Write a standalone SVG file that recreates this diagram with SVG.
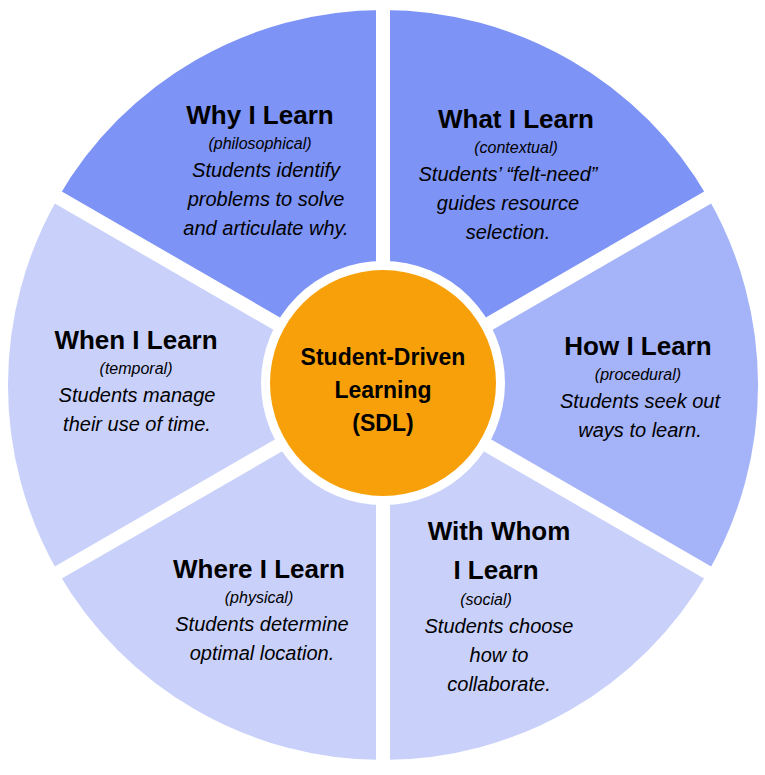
<svg xmlns="http://www.w3.org/2000/svg" width="765" height="775" viewBox="0 0 765 775">
<style>
.t{font-family:"Liberation Sans",Arial,sans-serif;font-weight:bold;font-size:26px;fill:#000;text-anchor:middle}
.s{font-family:"Liberation Sans",Arial,sans-serif;font-style:italic;font-size:16px;fill:#000;text-anchor:middle}
.b{font-family:"Liberation Sans",Arial,sans-serif;font-style:italic;font-size:20px;fill:#000;text-anchor:middle}
.c{font-family:"Liberation Sans",Arial,sans-serif;font-weight:bold;font-size:23px;fill:#000;text-anchor:middle}
.gap{stroke:#fff;stroke-width:14}
</style>
<rect width="765" height="775" fill="#fff"/>
<g id="why"><path d="M383,385 L58.2,197.5 A375,375 0 0 1 383,10 Z" fill="#7d93f6"/>
<text class="t" x="260" y="124">Why I Learn</text><text class="s" x="260" y="149">(philosophical)</text>
<text class="b" x="266" y="177">Students identify</text><text class="b" x="266" y="206">problems to solve</text><text class="b" x="266" y="235">and articulate why.</text></g>
<g id="what"><path d="M383,385 L383,10 A375,375 0 0 1 707.8,197.5 Z" fill="#7d93f6"/>
<text class="t" x="516" y="128">What I Learn</text><text class="s" x="516" y="153">(contextual)</text>
<text class="b" x="508" y="181">Students’ “felt-need”</text><text class="b" x="508" y="210">guides resource</text><text class="b" x="508" y="239">selection.</text></g>
<g id="how"><path d="M383,385 L707.8,197.5 A375,375 0 0 1 707.8,572.5 Z" fill="#a5b3f9"/>
<text class="t" x="638" y="355">How I Learn</text><text class="s" x="638" y="380">(procedural)</text>
<text class="b" x="640" y="408">Students seek out</text><text class="b" x="640" y="437">ways to learn.</text></g>
<g id="withwhom"><path d="M383,385 L707.8,572.5 A375,375 0 0 1 383,760 Z" fill="#c9d1fb"/>
<text class="t" x="499" y="540">With Whom</text><text class="t" x="496" y="579">I Learn</text><text class="s" x="486" y="605">(social)</text>
<text class="b" x="499" y="633">Students choose</text><text class="b" x="499" y="662">how to</text><text class="b" x="499" y="691">collaborate.</text></g>
<g id="where"><path d="M383,385 L383,760 A375,375 0 0 1 58.2,572.5 Z" fill="#c9d1fb"/>
<text class="t" x="259" y="578">Where I Learn</text><text class="s" x="259" y="603">(physical)</text>
<text class="b" x="262" y="631">Students determine</text><text class="b" x="262" y="660">optimal location.</text></g>
<g id="when"><path d="M383,385 L58.2,572.5 A375,375 0 0 1 58.2,197.5 Z" fill="#c9d1fb"/>
<text class="t" x="136" y="349">When I Learn</text><text class="s" x="136" y="374">(temporal)</text>
<text class="b" x="137" y="402">Students manage</text><text class="b" x="137" y="431">their use of time.</text></g>
<g id="connectors">
<line class="gap" x1="383" y1="385" x2="383" y2="0"/>
<line class="gap" x1="383" y1="385" x2="383" y2="775"/>
<line class="gap" x1="383" y1="385" x2="725" y2="187.5"/>
<line class="gap" x1="383" y1="385" x2="725" y2="582.5"/>
<line class="gap" x1="383" y1="385" x2="41" y2="187.5"/>
<line class="gap" x1="383" y1="385" x2="41" y2="582.5"/>
</g>
<g id="center"><circle cx="383" cy="383" r="122" fill="#fff"/><circle cx="383" cy="383" r="113" fill="#f7a00a"/>
<text class="c" x="383" y="365">Student-Driven</text><text class="c" x="383" y="398">Learning</text><text class="c" x="383" y="431">(SDL)</text></g>
</svg>
